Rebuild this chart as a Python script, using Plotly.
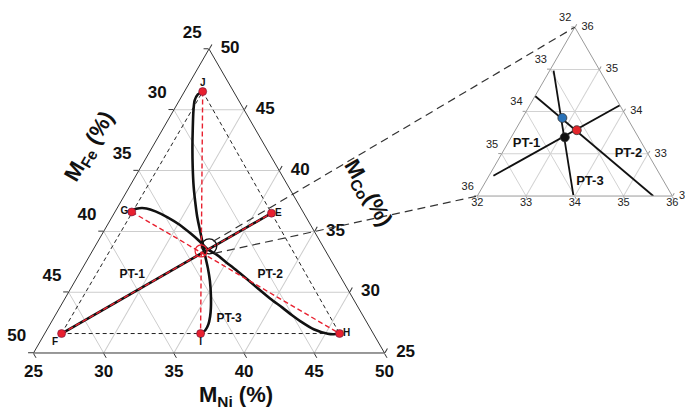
import math
import plotly.graph_objects as go

W, H = 685, 412
FONT = "Liberation Sans, Arial, sans-serif"

# ---------------- main diagram data (a = Co top, b = Fe bottom-left, c = Ni bottom-right) ----
pt_names = ["F", "G", "J", "E", "H", "I"]
pt_fe = [47.2, 37.2, 27.2, 27.3, 27.4, 37.3]
pt_co = [26.6, 36.6, 46.5, 36.5, 26.6, 26.6]
pt_ni = [26.2, 26.2, 26.3, 36.2, 46.0, 36.1]
pt_label_pos = ["bottom left", "middle left", "top center", "middle right", "middle right", "bottom center"]

outline_order = ["F", "J", "H", "F"]
median_pairs = [("F", "E"), ("G", "H"), ("J", "I")]
pt1_ends = ("F", "E")

pt2_fe = [37.2, 36.92, 36.51, 36.01, 35.49, 34.87, 34.32, 33.89, 33.57, 33.32, 32.91, 32.55, 32.16,
          31.75, 31.35, 30.9, 30.41, 30.02, 29.68, 29.07, 28.25, 27.84, 27.4]
pt2_co = [36.6, 36.81, 36.91, 36.89, 36.65, 36.16, 35.55, 34.82, 34.17, 33.52, 33.09, 32.47, 31.82,
          31.06, 30.28, 29.46, 28.73, 28.08, 27.6, 26.95, 26.58, 26.54, 26.6]
pt2_ni = [26.2, 26.27, 26.58, 27.1, 27.86, 28.97, 30.13, 31.29, 32.26, 33.16, 34.0, 34.98, 36.02,
          37.19, 38.37, 39.64, 40.86, 41.9, 42.72, 43.98, 45.17, 45.62, 46.0]

pt3_fe = [27.2, 27.66, 28.13, 28.62, 29.4, 30.24, 31.03, 31.77, 32.27, 32.74, 33.08, 33.44, 33.79,
          34.09, 34.47, 35.01, 35.5, 35.92, 36.37, 36.83, 37.3]
pt3_co = [46.5, 46.27, 45.78, 44.97, 43.51, 41.88, 40.26, 38.64, 37.42, 36.2, 35.15, 34.01, 32.95,
          31.98, 30.93, 29.71, 28.73, 28.0, 27.35, 26.87, 26.6]
pt3_ni = [26.3, 26.07, 26.09, 26.41, 27.09, 27.88, 28.71, 29.59, 30.31, 31.06, 31.77, 32.55, 33.26,
          33.93, 34.6, 35.28, 35.77, 36.08, 36.28, 36.3, 36.1]

pt_text = ["PT-1", "PT-2", "PT-3"]
pt_text_fe = [39.76, 29.93, 34.69]
pt_text_co = [31.41, 31.41, 27.76]
pt_text_ni = [28.83, 38.66, 37.55]

zoom_circle = dict(fe=33.1, co=33.77, ni=33.13)
centroid_circle = dict(fe=33.87, co=33.39, ni=32.74)

main_ticks = [25, 30, 35, 40, 45, 50]

# ---------------- inset data ----------------
in_lines_fe = {"PT-1": [35.43, 32.0], "PT-2": [33.63, 32.39], "PT-3": [32.95, 34.02]}
in_lines_co = {"PT-1": [32.48, 34.15], "PT-2": [34.37, 32.0], "PT-3": [34.97, 32.02]}
in_lines_ni = {"PT-1": [32.09, 33.85], "PT-2": [32.0, 35.61], "PT-3": [32.08, 33.96]}
in_text_fe = [34.37, 32.4, 33.52]
in_text_co = [33.24, 33.0, 32.34]
in_text_ni = [32.39, 34.6, 34.14]
in_dot_fe = [33.33, 33.18, 33.51]
in_dot_co = [33.85, 33.56, 33.39]
in_dot_ni = [32.82, 33.26, 33.10]
in_dot_colors = ["#2a72b8", "#e3262b", "#111111"]
inset_ticks = [32, 33, 34, 35, 36]

# ---------------- geometry of the two triangles (pixels) ----------------
MAIN_G = dict(cx=209.0, cy=201.0, side=351.0, lo=25.0, hi=50.0)
INSET_G = dict(cx=574.8, cy=111.6, side=195.0, lo=32.0, hi=36.0)


def domain_of(g):
    h = g["side"] * math.sqrt(3) / 2
    return dict(x=[(g["cx"] - g["side"] / 2) / W, (g["cx"] + g["side"] / 2) / W],
                y=[1 - (g["cy"] + h / 2) / H, 1 - (g["cy"] - h / 2) / H])


def to_px(g, co, ni):
    h = g["side"] * math.sqrt(3) / 2
    u = (co - g["lo"]) / (g["hi"] - g["lo"])
    v = (ni - g["lo"]) / (g["hi"] - g["lo"])
    return g["cx"] - g["side"] / 2 + g["side"] * (v + u / 2), g["cy"] + h / 2 - h * u


idx = {n: i for i, n in enumerate(pt_names)}
fig = go.Figure()

RED = "#e8202f"


def tern(sub, fe, co, ni, **kw):
    fig.add_trace(go.Scatterternary(a=co, b=fe, c=ni, subplot=sub, showlegend=False,
                                    hoverinfo="skip", cliponaxis=False, **kw))


# black dashed outline F-J-H
tern("ternary", [pt_fe[idx[n]] for n in outline_order], [pt_co[idx[n]] for n in outline_order],
     [pt_ni[idx[n]] for n in outline_order], mode="lines",
     line=dict(color="#222222", width=1, dash="4px,3px"))

# black PT curves
p1 = [idx[n] for n in pt1_ends]
tern("ternary", [pt_fe[i] for i in p1], [pt_co[i] for i in p1], [pt_ni[i] for i in p1],
     mode="lines", line=dict(color="#111111", width=2.6))
tern("ternary", pt2_fe, pt2_co, pt2_ni, mode="lines",
     line=dict(color="#111111", width=2.6, shape="spline", smoothing=0.8))
tern("ternary", pt3_fe, pt3_co, pt3_ni, mode="lines",
     line=dict(color="#111111", width=2.6, shape="spline", smoothing=0.8))

# red dashed medians
for s, e in median_pairs:
    ii = [idx[s], idx[e]]
    tern("ternary", [pt_fe[i] for i in ii], [pt_co[i] for i in ii], [pt_ni[i] for i in ii],
         mode="lines", line=dict(color=RED, width=1.4, dash="5px,3px"))

# circles
tern("ternary", [zoom_circle["fe"]], [zoom_circle["co"]], [zoom_circle["ni"]], mode="markers",
     marker=dict(symbol="circle-open", size=15, color="#111111", line=dict(width=1.4)))
tern("ternary", [centroid_circle["fe"]], [centroid_circle["co"]], [centroid_circle["ni"]], mode="markers",
     marker=dict(symbol="circle-open", size=12, color=RED, line=dict(width=1.2)))

# red points
tern("ternary", pt_fe, pt_co, pt_ni, mode="markers",
     marker=dict(size=8, color=RED, line=dict(width=0.6, color="#6a1a40")))
# point names
tern("ternary", pt_fe, pt_co, pt_ni, mode="markers+text", text=pt_names, textposition=pt_label_pos,
     marker=dict(size=4, opacity=0), textfont=dict(family=FONT, size=10, color="#111111", weight="bold"))

# PT labels
tern("ternary", pt_text_fe, pt_text_co, pt_text_ni, mode="text", text=pt_text, textposition="middle center",
     textfont=dict(family=FONT, size=12, color="#111111", weight="bold"))

# main tick labels
lo = MAIN_G["lo"]
tot = 100 - lo
tf_main = dict(family=FONT, size=17, color="#111111", weight="bold")
# left edge: Fe values (Ni at min)
tern("ternary", main_ticks, [tot - t for t in main_ticks], [lo] * len(main_ticks), mode="markers+text",
     text=[str(t) for t in main_ticks], textposition="top left", marker=dict(size=10, opacity=0), textfont=tf_main)
# bottom edge: Ni values (Co at min)
tern("ternary", [tot - t for t in main_ticks], [lo] * len(main_ticks), main_ticks, mode="markers+text",
     text=[str(t) for t in main_ticks], textposition="bottom center", marker=dict(size=17, opacity=0), textfont=tf_main)
# right edge: Co values (Fe at min)
tern("ternary", [lo] * len(main_ticks), main_ticks, [tot - t for t in main_ticks], mode="markers+text",
     text=[str(t) for t in main_ticks], textposition="middle right", marker=dict(size=17, opacity=0), textfont=tf_main)

# ---------------- inset ----------------
for name in ["PT-1", "PT-2", "PT-3"]:
    tern("ternary2", in_lines_fe[name], in_lines_co[name], in_lines_ni[name], mode="lines",
         line=dict(color="#111111", width=1.8))
tern("ternary2", in_dot_fe, in_dot_co, in_dot_ni, mode="markers",
     marker=dict(size=9, color=in_dot_colors, line=dict(width=0.8, color="#333333")))
tern("ternary2", in_text_fe, in_text_co, in_text_ni, mode="text", text=pt_text, textposition="middle center",
     textfont=dict(family=FONT, size=13, color="#111111", weight="bold"))

ilo = INSET_G["lo"]
itot = 100 - ilo
tf_in = dict(family=FONT, size=11, color="#222222")
tern("ternary2", inset_ticks, [itot - t for t in inset_ticks], [ilo] * len(inset_ticks), mode="markers+text",
     text=[str(t) for t in inset_ticks], textposition="top left", marker=dict(size=4, opacity=0), textfont=tf_in)
tern("ternary2", [itot - t for t in inset_ticks], [ilo] * len(inset_ticks), inset_ticks, mode="markers+text",
     text=[str(t) for t in inset_ticks], textposition="bottom center", marker=dict(size=1, opacity=0), textfont=tf_in)
tern("ternary2", [ilo] * len(inset_ticks), inset_ticks, [itot - t for t in inset_ticks], mode="markers+text",
     text=[str(t) for t in inset_ticks], textposition="middle right", marker=dict(size=9, opacity=0), textfont=tf_in)


def axis(lo_, ticks, linecolor, gridcolor, ticklen):
    return dict(min=lo_, tickmode="array", tickvals=ticks, showticklabels=False, ticks="outside",
                ticklen=ticklen, tickcolor=linecolor, linecolor=linecolor, linewidth=1,
                gridcolor=gridcolor, gridwidth=1, showgrid=True, title=dict(text=""))


fig.update_layout(
    width=W, height=H, autosize=False, margin=dict(l=0, r=0, t=0, b=0),
    paper_bgcolor="white", plot_bgcolor="white", hovermode=False,
    ternary=dict(domain=domain_of(MAIN_G), sum=100, bgcolor="white",
                 aaxis=axis(25, main_ticks, "#333333", "#cdcdcd", 5),
                 baxis=axis(25, main_ticks, "#333333", "#cdcdcd", 5),
                 caxis=axis(25, main_ticks, "#333333", "#cdcdcd", 5)),
    ternary2=dict(domain=domain_of(INSET_G), sum=100, bgcolor="white",
                  aaxis=axis(32, inset_ticks, "#9a9a9a", "#d2d2d2", 3),
                  baxis=axis(32, inset_ticks, "#9a9a9a", "#d2d2d2", 3),
                  caxis=axis(32, inset_ticks, "#9a9a9a", "#d2d2d2", 3)),
)

# axis titles
tfont = dict(family=FONT, size=22, color="#111111")
for txt, px_x, px_y, ang in [("<b>M<sub>Fe</sub> (%)</b>", 90, 147, -60),
                             ("<b>M<sub>Co</sub>(%)</b>", 367, 193, 60),
                             ("<b>M<sub>Ni</sub> (%)</b>", 236, 396, 0)]:
    fig.add_annotation(text=txt, x=px_x / W, y=1 - px_y / H, xref="paper", yref="paper",
                       xanchor="center", yanchor="middle", textangle=ang, showarrow=False, font=tfont)

# connector dashed lines from zoom circle to inset vertices
cx, cy = to_px(MAIN_G, zoom_circle["co"], zoom_circle["ni"])
top_x, top_y = to_px(INSET_G, INSET_G["hi"], INSET_G["lo"])
bl_x, bl_y = to_px(INSET_G, INSET_G["lo"], INSET_G["lo"])
for (sx, sy), (ex, ey) in [((cx + 4, cy - 5), (top_x, top_y)), ((cx + 5, cy + 7), (bl_x, bl_y))]:
    fig.add_shape(type="line", xref="paper", yref="paper", x0=sx / W, y0=1 - sy / H, x1=ex / W, y1=1 - ey / H,
                  line=dict(color="#333333", width=1.2, dash="8px,5px"))

fig.write_html("out.html", config={"displayModeBar": False},
               post_script="document.body.style.margin='0';")
